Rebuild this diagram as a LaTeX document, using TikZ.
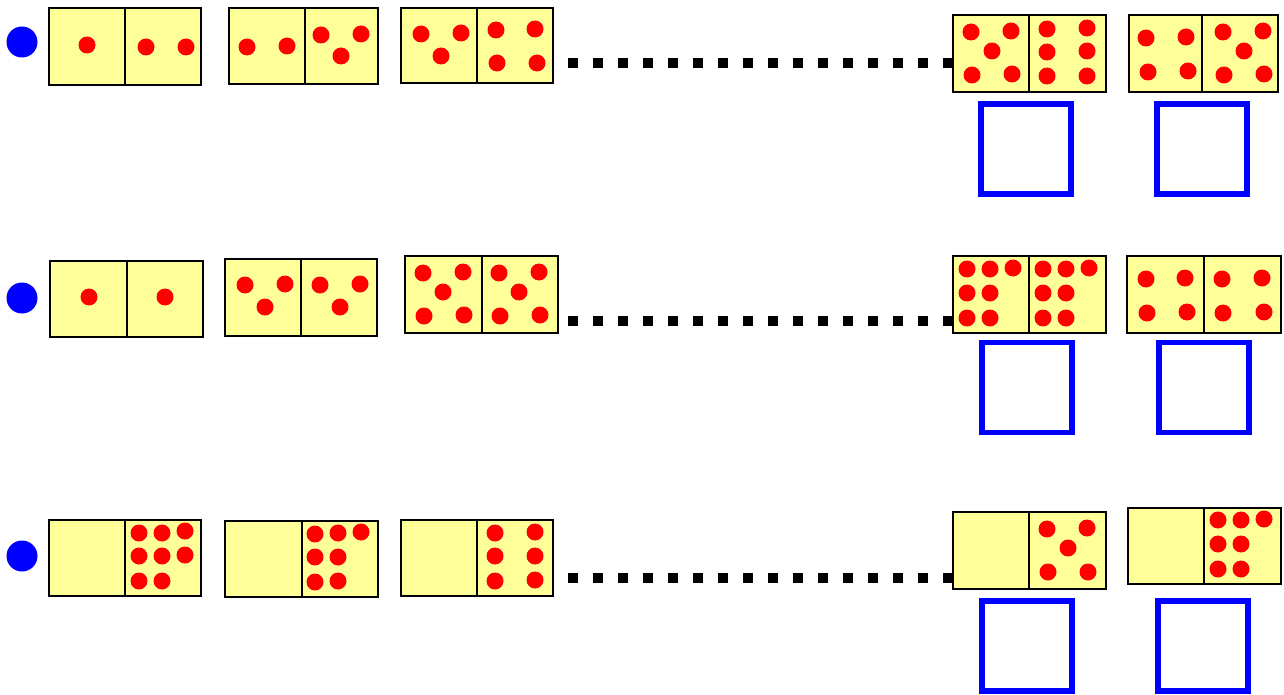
\documentclass[tikz,border=0pt]{standalone}
\definecolor{domyellow}{HTML}{FFFF99}
\definecolor{pipred}{HTML}{FF0000}
\definecolor{markblue}{HTML}{0000FF}
\tikzset{
  half/.style={draw=black, fill=domyellow, line width=1.6pt, inner sep=0pt, outer sep=0pt, anchor=north west},
  pip/.style={fill=pipred},
  marker/.style={circle, fill=markblue, minimum size=31pt, inner sep=0pt},
  answerbox/.style={draw=markblue, line width=5.5pt, minimum width=90pt, minimum height=90pt, inner sep=0pt},
  dotline/.style={line width=10pt, line cap=butt, dash pattern=on 10pt off 15pt}
}
% name, x1, y1, xdiv, x2, y2
\newcommand\mydomino[6]{%
  \node[half, minimum width={(#4-#2)*1pt}, minimum height={(#6-#3)*1pt}] (#1L) at (#2,#3) {};
  \node[half, minimum width={(#5-#4)*1pt}, minimum height={(#6-#3)*1pt}] (#1R) at (#4,#3) {};
}
\newcommand\mypips[1]{\foreach \p in {#1} \fill[pip] (\p) circle (8.5pt);}
\begin{document}
\begin{tikzpicture}[x=1pt,y=-1pt]
\useasboundingbox (0,0) rectangle (1284,695);
% ---------- row 1 ----------
\node[marker] (m1) at (22,42) {};
\mydomino{a1}{49}{8}{125}{201}{85}
\mypips{{87,45},{146,47},{186,47}}
\mydomino{a2}{229}{8}{305}{378}{84}
\mypips{{247,47},{287,46},{321,35},{361,34},{341,56}}
\mydomino{a3}{401}{8}{477}{553}{83}
\mypips{{421,34},{461,33},{441,56},{496,30},{535,29},{497,63},{537,63}}
\mydomino{a4}{953}{15}{1029}{1106}{92}
\mypips{{971,32},{1011,31},{992,51},{972,75},{1012,74},{1047,29},{1087,28},{1047,52},{1087,51},{1047,76},{1087,76}}
\mydomino{a5}{1129}{15}{1202}{1278}{92}
\mypips{{1146,38},{1186,37},{1148,72},{1188,71},{1223,32},{1263,31},{1244,51},{1224,75},{1264,74}}
\node[answerbox] (qa1) at (1026,149) {};
\node[answerbox] (qa2) at (1202,149) {};
\coordinate (sa) at (568,63);
\draw[dotline] (sa) -- (a4L.west |- sa);
% ---------- row 2 ----------
\node[marker] (m2) at (22,298) {};
\mydomino{b1}{50}{261}{127}{203}{337}
\mypips{{89,297},{165,297}}
\mydomino{b2}{225}{259}{301}{377}{336}
\mypips{{245,285},{285,284},{265,307},{320,285},{360,284},{340,307}}
\mydomino{b3}{405}{256}{482}{558}{333}
\mypips{{423,273},{463,272},{443,292},{424,316},{464,315},{499,273},{539,272},{519,292},{500,316},{540,315}}
\mydomino{b4}{953}{256}{1029}{1106}{333}
\mypips{{967,269},{990,269},{1013,268},{967,293},{990,293},{967,318},{990,318},{1043,269},{1066,269},{1089,268},{1043,293},{1066,293},{1043,318},{1066,318}}
\mydomino{b5}{1127}{256}{1204}{1281}{333}
\mypips{{1146,279},{1185,278},{1147,313},{1187,312},{1222,279},{1262,278},{1223,313},{1264,312}}
\node[answerbox] (qb1) at (1027,387.5) {};
\node[answerbox] (qb2) at (1204,387.5) {};
\coordinate (sb) at (568,321);
\draw[dotline] (sb) -- (b4L.west |- sb);
% ---------- row 3 ----------
\node[marker] (m3) at (22,556) {};
\mydomino{c1}{49}{520}{125}{201}{596}
\mypips{{139,533},{162,533},{185,531},{139,556},{162,556},{185,555},{139,581},{162,581}}
\mydomino{c2}{225}{521}{302}{378}{597}
\mypips{{315,534},{338,533},{361,532},{315,557},{338,557},{315,582},{338,581}}
\mydomino{c3}{401}{520}{477}{553}{596}
\mypips{{495,533},{535,532},{495,556},{535,556},{495,581},{535,580}}
\mydomino{c4}{953}{512}{1029}{1106}{589}
\mypips{{1047,529},{1087,528},{1068,548},{1048,572},{1088,572}}
\mydomino{c5}{1128}{508}{1204}{1281}{584}
\mypips{{1218,520},{1241,520},{1264,519},{1218,544},{1241,544},{1218,569},{1241,569}}
\node[answerbox] (qc1) at (1027,646) {};
\node[answerbox] (qc2) at (1203,646) {};
\coordinate (sc) at (568,578);
\draw[dotline] (sc) -- (c4L.west |- sc);
\end{tikzpicture}
\end{document}
